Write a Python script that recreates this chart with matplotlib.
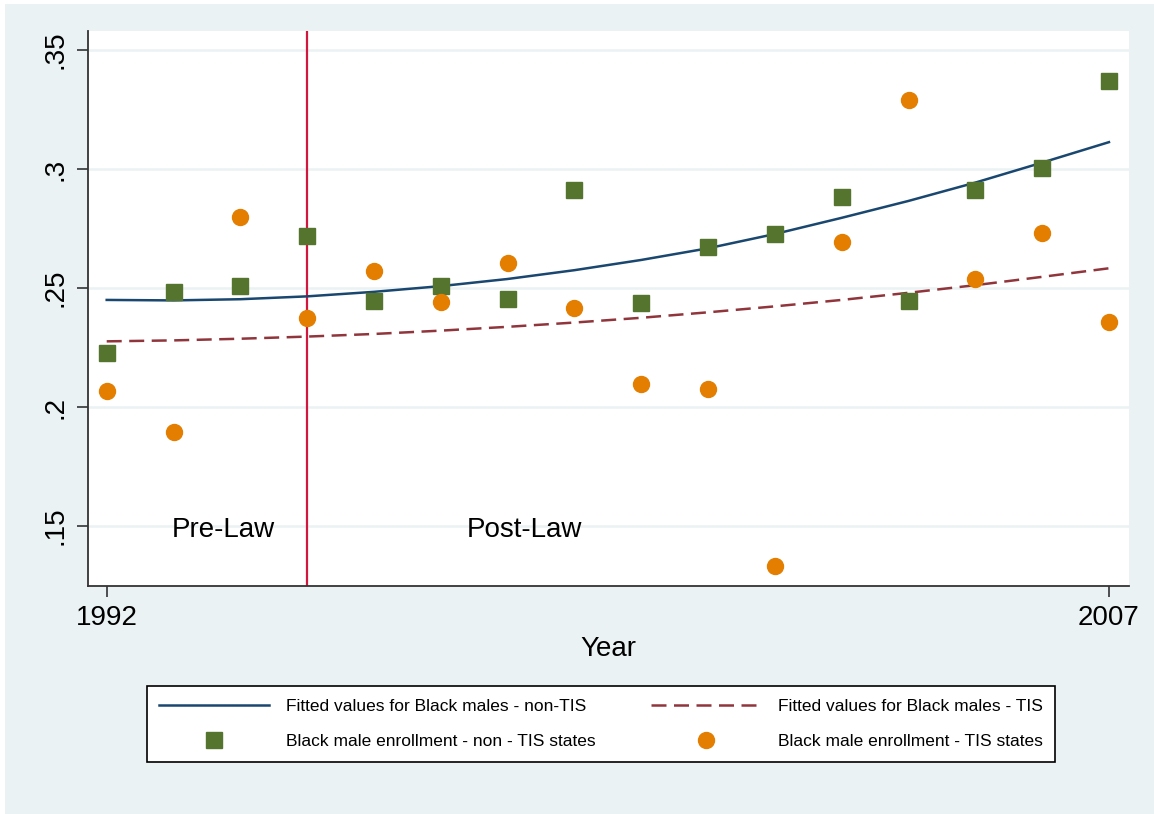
import matplotlib.pyplot as plt
from matplotlib.patches import Rectangle
from matplotlib.lines import Line2D

plt.rcParams['font.family'] = ['Liberation Sans', 'DejaVu Sans']

# Données
years = list(range(1992, 2008))
non_tis = [0.2227, 0.2483, 0.2508, 0.2718, 0.2445, 0.2508, 0.2454, 0.2912,
           0.2437, 0.2672, 0.2727, 0.2882, 0.2445, 0.2912, 0.3004, 0.3370]
tis = [0.2067, 0.1895, 0.2798, 0.2374, 0.2571, 0.2441, 0.2605, 0.2416,
       0.2097, 0.2076, 0.1332, 0.2693, 0.3290, 0.2538, 0.2731, 0.2357]
fit_non_tis = [0.2450, 0.2448, 0.2453, 0.2465, 0.2484, 0.2508, 0.2538, 0.2575,
               0.2618, 0.2667, 0.2727, 0.2795, 0.2866, 0.2943, 0.3027, 0.3113]
fit_tis = [0.2276, 0.2280, 0.2287, 0.2296, 0.2307, 0.2321, 0.2337, 0.2355,
           0.2375, 0.2398, 0.2423, 0.2450, 0.2480, 0.2512, 0.2547, 0.2583]
y_ticks = [0.15, 0.2, 0.25, 0.3, 0.35]
y_labels = ['.15', '.2', '.25', '.3', '.35']
law_year = 1995

# couleurs Stata s2color
navy = '#1A476F'
maroon = '#90353B'
green = '#55752F'
orange = '#E37E00'
bg = '#EAF2F3'

W, H = 1154, 814
fig = plt.figure(figsize=(W / 100, H / 100), dpi=100, facecolor='white')
fig.patches.append(Rectangle((5 / W, 0), 1 - 5 / W, 1 - 4 / H, transform=fig.transFigure,
                             facecolor=bg, edgecolor='none', zorder=-10))

ax = fig.add_axes([88 / W, 1 - 586 / H, (1129 - 88) / W, (586 - 31) / H])
ax.set_facecolor('white')

ax.set_xlim(1991.72, 2007.3)
ax.set_ylim(0.1248, 0.358)

for t in y_ticks:
    ax.axhline(t, color=bg, lw=1.8, zorder=0)

ax.axvline(law_year, color='#D2173F', lw=1.6, zorder=1)

ax.plot(years, fit_non_tis, color=navy, lw=1.8, zorder=3)
ax.plot(years, fit_tis, color=maroon, lw=1.8, dashes=(6, 3), zorder=3)
ax.plot(years, non_tis, 's', color=green, ms=11.5, mec=green, zorder=4)
ax.plot(years, tis, 'o', color=orange, ms=11.5, mec=orange, zorder=4)

# textes Pre-Law / Post-Law
ax.text(1993.75, 0.1484, 'Pre-Law', fontsize=20, ha='center', va='center')
ax.text(1998.25, 0.1484, 'Post-Law', fontsize=20, ha='center', va='center')

ax.set_yticks(y_ticks)
ax.set_yticklabels(y_labels, rotation=90, va='center', fontsize=20)
ax.set_xticks([1992, 2007])
ax.set_xticklabels(['1992', '2007'], fontsize=20)
ax.tick_params(axis='both', direction='out', length=8, width=1.2, color='#333333', pad=6)
ax.set_xlabel('Year', fontsize=20, labelpad=3)

for side in ['top', 'right']:
    ax.spines[side].set_visible(False)
for side in ['left', 'bottom']:
    ax.spines[side].set_color('#333333')
    ax.spines[side].set_linewidth(1.3)

handles = [
    Line2D([], [], color=navy, lw=1.8),
    Line2D([], [], marker='s', ls='none', color=green, ms=11.5),
    Line2D([], [], color=maroon, lw=1.8, dashes=(6, 3)),
    Line2D([], [], marker='o', ls='none', color=orange, ms=11.5),
]
labels = [
    'Fitted values for Black males - non-TIS',
    'Black male enrollment - non - TIS states',
    'Fitted values for Black males - TIS',
    'Black male enrollment - TIS states',
]
leg = fig.legend(handles, labels, ncol=2, loc='center',
                 bbox_to_anchor=(601 / W, 1 - 724 / H),
                 fontsize=12.5, handlelength=6.3, handletextpad=1.0, columnspacing=3.2,
                 borderpad=0.72, labelspacing=1.19, frameon=True, fancybox=False,
                 framealpha=1)
leg.get_frame().set_edgecolor('black')
leg.get_frame().set_linewidth(1.2)
leg.get_frame().set_facecolor('white')

fig.savefig('out.png', dpi=100, facecolor=fig.get_facecolor())
